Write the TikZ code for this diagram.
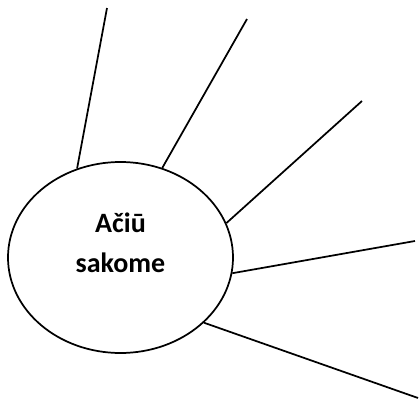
\documentclass[tikz,border=0pt]{standalone}
\usepackage{fontspec}
\usetikzlibrary{shapes.geometric}
\newfontfamily\calib{Carlito}
\begin{document}
\begin{tikzpicture}[x=0.75pt,y=-0.75pt,
    bubble/.style={draw, ellipse, line width=1.3pt, inner sep=0pt,
      minimum width=168.75pt, minimum height=143.25pt},
    ray/.style={line width=1.3pt}]
  \useasboundingbox (0,0) rectangle (419,400);
  \node[bubble] (sak) at (120.5,257.5) {};
  \node[align=center, font=\calib\bfseries\fontsize{21}{30}\selectfont] (txt) at (120.5,243) {Ačiū\\sakome};
  % spinduliai
  \coordinate (r1) at (107,8);
  \coordinate (r2) at (247,19);
  \coordinate (r3) at (362,101);
  \coordinate (r4) at (415,241);
  \coordinate (r5) at (418,398);
  \draw[ray] (sak.116) -- (r1);
  \draw[ray] (sak.65) -- (r2);
  \draw[ray] (sak.18) -- (r3);
  \draw[ray] (sak.-8) -- (r4);
  \draw[ray] (sak.-38) -- (r5);
\end{tikzpicture}
\end{document}
